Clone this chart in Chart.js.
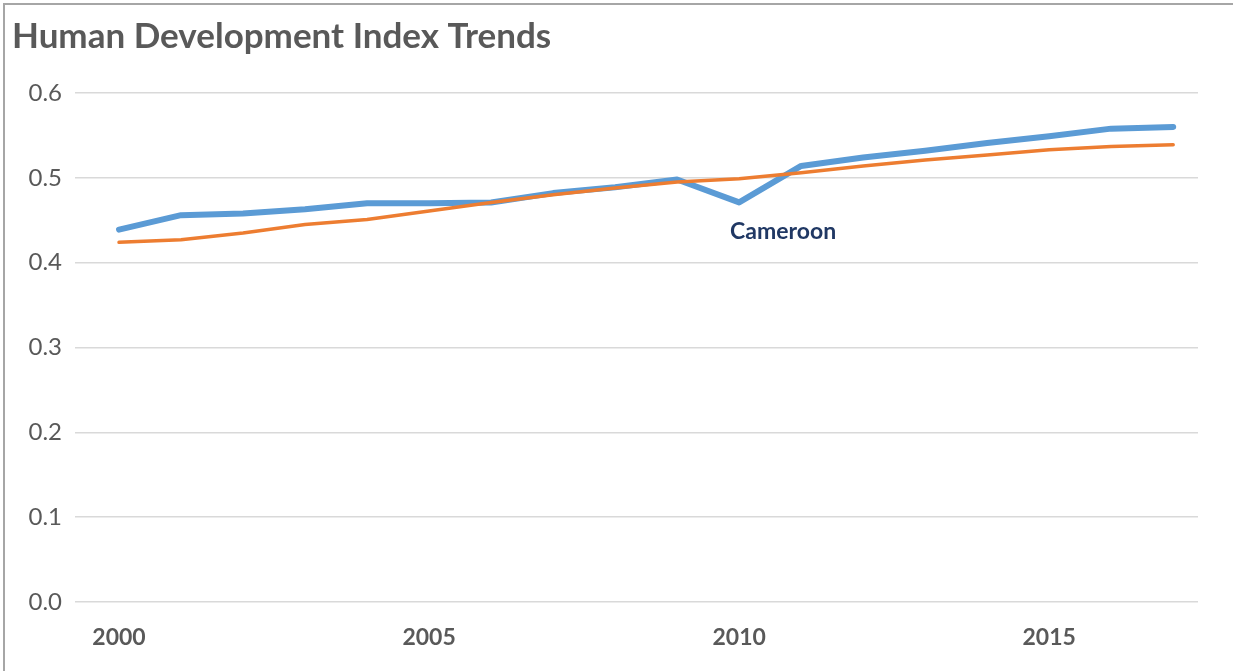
<!DOCTYPE html>
<html>
<head>
<meta charset="utf-8">
<script src="https://cdn.jsdelivr.net/npm/chart.js@4"></script>
<style>
    html, body { margin: 0; padding: 0; background: #fff; }
    .frame {
        position: absolute;
        left: 3px;
        top: 3px;
        width: 1228px;
        height: 666px;
        border-left: 2px solid #a6a6a6;
        border-top: 2px solid #a6a6a6;
        background: #fff;
    }
    canvas { display: block; }
</style>
</head>
<body>
<div class="frame">
    <canvas id="hdi" width="1228" height="666"></canvas>
</div>
<script>
const years = [2000, 2001, 2002, 2003, 2004, 2005, 2006, 2007, 2008,
               2009, 2010, 2011, 2012, 2013, 2014, 2015, 2016, 2017];
const cameroon = [0.439, 0.456, 0.458, 0.463, 0.470, 0.470, 0.471, 0.482, 0.489,
                  0.498, 0.471, 0.514, 0.524, 0.532, 0.541, 0.549, 0.558, 0.560];
const benchmark = [0.424, 0.427, 0.435, 0.445, 0.451, 0.461, 0.471, 0.480, 0.488,
                   0.495, 0.499, 0.506, 0.514, 0.521, 0.527, 0.533, 0.537, 0.539];
const yearTicks = [2000, 2005, 2010, 2015];
const labelYear = 2010;
const labelText = 'Cameroon';

const grey = '#595959';

function toPoints(values) {
    return years.map((yr, i) => ({ x: yr, y: values[i] }));
}

// Draws the series name under the 2010 dip of the blue line
const seriesLabel = {
    id: 'seriesLabel',
    afterDatasetsDraw(chart) {
        const ctx = chart.ctx;
        const x = chart.scales.x.getPixelForValue(labelYear);
        const y = chart.scales.y.getPixelForValue(cameroon[years.indexOf(labelYear)]);
        ctx.save();
        ctx.font = 'bold 23px Lato';
        ctx.fillStyle = '#203864';
        ctx.textAlign = 'center';
        ctx.textBaseline = 'middle';
        ctx.fillText(labelText, x + 44, y + 29);
        ctx.restore();
    }
};

new Chart(document.getElementById('hdi'), {
    type: 'line',
    data: {
        datasets: [{
            label: labelText,
            data: toPoints(cameroon),
            borderColor: '#5b9bd5',
            borderWidth: 6,
            borderCapStyle: 'round',
            borderJoinStyle: 'round',
            pointRadius: 0,
            tension: 0,
            order: 1
        }, {
            label: 'Benchmark',
            data: toPoints(benchmark),
            borderColor: '#ed7d31',
            borderWidth: 3.5,
            borderCapStyle: 'round',
            borderJoinStyle: 'round',
            pointRadius: 0,
            tension: 0,
            order: 0
        }]
    },
    options: {
        responsive: false,
        animation: false,
        layout: {
            padding: { left: 7, right: 35, top: 0, bottom: 0 }
        },
        plugins: {
            legend: { display: false },
            tooltip: { enabled: false },
            title: {
                display: true,
                text: 'Human Development Index Trends',
                align: 'start',
                color: grey,
                font: { family: 'Lato', size: 35, weight: 'bold' },
                padding: { top: 11, bottom: 35 }
            }
        },
        scales: {
            x: {
                type: 'linear',
                min: 1999.29,
                max: 2017.4,
                afterBuildTicks(axis) {
                    axis.ticks = yearTicks.map(v => ({ value: v }));
                },
                afterFit(axis) {
                    axis.height = 69;
                },
                grid: { display: false, drawTicks: false },
                border: { display: false },
                ticks: {
                    color: grey,
                    padding: 22,
                    maxRotation: 0,
                    font: { family: 'Lato', size: 23, weight: 'bold' },
                    callback: v => String(v)
                }
            },
            y: {
                min: 0,
                max: 0.6,
                afterFit(axis) {
                    axis.width = 63;
                },
                grid: { color: '#d9d9d9', lineWidth: 1.5, drawTicks: false },
                border: { display: false },
                ticks: {
                    stepSize: 0.1,
                    color: grey,
                    padding: 13,
                    font: { family: 'Lato', size: 24 },
                    callback: v => Number(v).toFixed(1)
                }
            }
        }
    },
    plugins: [seriesLabel]
});
</script>
</body>
</html>
